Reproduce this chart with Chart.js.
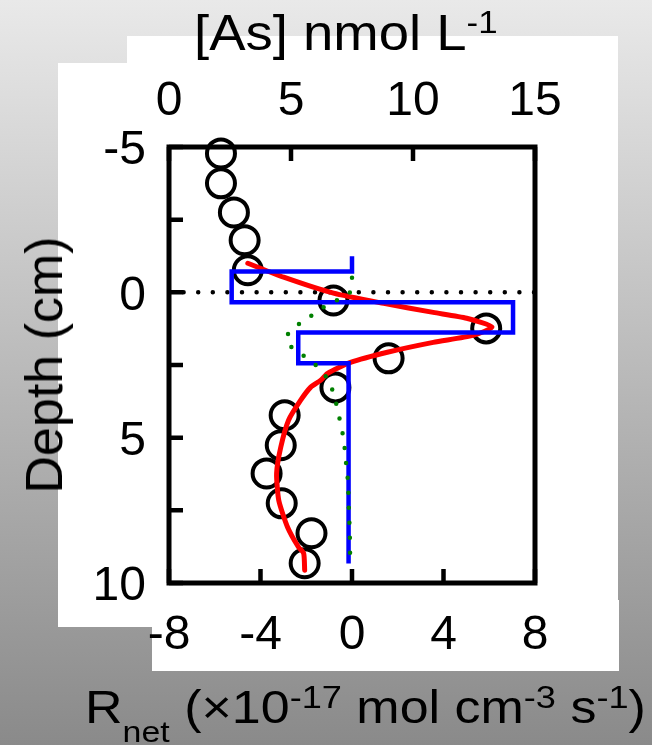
<!DOCTYPE html>
<html>
<head>
<meta charset="utf-8">
<script src="https://cdn.jsdelivr.net/npm/chart.js@4.4.1/dist/chart.umd.min.js"></script>
<style>
  html, body { margin: 0; padding: 0; }
  body {
    width: 652px; height: 745px; position: relative; overflow: hidden;
    background: linear-gradient(to bottom, #e9e9e9 0%, #8a8a8a 100%);
    font-family: "Liberation Sans", Arial, sans-serif;
  }
  #chart { position: absolute; left: 0; top: 0; }
  .title { position: absolute; white-space: nowrap; color: #000; line-height: 1; }
  .title span { position: relative; }
</style>
</head>
<body>
<canvas id="chart" width="652" height="745"></canvas>
<div class="title" id="topTitle" style="left:194px; top:8px; font-size:50px; transform-origin: left center; transform: scaleX(1.09);">[As] nmol L<span style="font-size:32px; top:-17px;">-1</span></div>
<div class="title" id="leftTitle" style="left:44px; top:365px; font-size:52px; transform: translate(-50%, -50%) rotate(-90deg);">Depth (cm)</div>
<div class="title" id="bottomTitle" style="left:85px; top:684px; font-size:46px; transform-origin: left center; transform: scaleX(1.13);">R<span style="font-size:30px; top:19px;">net</span> (×10<span style="font-size:32px; top:-15px;">-17</span> mol cm<span style="font-size:32px; top:-15px;">-3</span> s<span style="font-size:32px; top:-15px;">-1</span>)</div>

<script>
// measured As concentration (nmol/L) vs depth (cm)
const sampleDepth = [-4.78, -3.75, -2.75, -1.79, -0.76, 0.28, 1.24, 2.27, 3.27, 4.23, 5.26, 6.23, 7.26, 8.29, 9.32];
const sampleAs = [2.13, 2.13, 2.66, 3.1, 3.23, 6.74, 13.0, 9.0, 6.82, 4.74, 4.58, 4.0, 4.62, 5.84, 5.56];

// fitted concentration profile (red line, top axis)
const fitDepth = [-1.0, -0.52, 0.03, 0.38, 0.69, 0.89, 1.2, 1.48, 1.72, 2.06, 2.41, 2.79, 3.03, 3.27, 3.72, 4.4, 5.33, 6.23, 7.16, 8.08, 8.77, 8.98, 9.56];
const fitAs = [3.23, 4.7, 6.74, 8.8, 10.83, 12.2, 13.24, 12.46, 10.83, 8.95, 7.44, 6.5, 6.21, 5.8, 5.39, 4.9, 4.58, 4.41, 4.5, 4.86, 5.31, 5.52, 5.56];

// net rate by zone (blue step, bottom axis)
const stepDepth = [-1.24, -0.72, -0.72, 0.34, 0.34, 1.38, 1.38, 2.44, 2.44, 9.33];
const stepRnet = [0, 0, -5.26, -5.26, 7.04, 7.04, -2.35, -2.35, -0.15, -0.15];

// continuous net rate (green dotted, bottom axis)
const rateDepth = [-0.5, 0.0, 0.31, 0.58, 0.93, 1.27, 1.55, 1.79, 2.17, 2.55, 3.06, 3.58, 4.09, 4.61, 5.09, 5.61, 6.12, 6.64, 7.16, 7.67, 8.15, 8.67, 9.22];
const rateRnet = [0.0, -0.09, -0.74, -1.39, -2.0, -2.65, -2.85, -2.78, -2.13, -1.52, -1.0, -0.78, -0.61, -0.48, -0.35, -0.3, -0.22, -0.17, -0.15, -0.13, -0.1, -0.09, -0.08];

// sediment-water interface
const interfaceRnet = [-8, 8];
const interfaceDepth = [0, 0];

// tick values
const depthTicks = [-5, -2.5, 0, 2.5, 5, 7.5, 10];
const rnetTicks = [-8, -4, 0, 4, 8];
const asTicks = [0, 5, 10, 15];

function toPoints(xs, ys) {
  return xs.map((x, i) => ({ x: x, y: ys[i] }));
}

const tickFont = { family: "'Liberation Sans', Arial, sans-serif", size: 48 };

// white panels behind the plot, frame and inward ticks on top
const framePlugin = {
  id: 'frame',
  beforeDraw(chart) {
    const ctx = chart.ctx;
    ctx.save();
    ctx.fillStyle = '#ffffff';
    ctx.fillRect(127, 36, 491, 27);
    ctx.fillRect(58, 63, 560, 564);
    ctx.fillRect(152, 600, 467, 71);
    ctx.restore();
  },
  afterDatasetsDraw(chart) {
    const { ctx, chartArea: a, scales } = chart;
    ctx.save();
    ctx.strokeStyle = '#000';
    ctx.lineJoin = 'miter';
    ctx.lineWidth = 5;
    ctx.strokeRect(a.left, a.top, a.right - a.left, a.bottom - a.top);
    ctx.lineWidth = 4.5;
    ctx.beginPath();
    depthTicks.forEach(v => {
      const y = scales.y.getPixelForValue(v);
      ctx.moveTo(a.left, y);
      ctx.lineTo(a.left + 14, y);
    });
    rnetTicks.forEach(v => {
      const x = scales.x.getPixelForValue(v);
      ctx.moveTo(x, a.bottom);
      ctx.lineTo(x, a.bottom - 14);
    });
    asTicks.forEach(v => {
      const x = scales.xTop.getPixelForValue(v);
      ctx.moveTo(x, a.top);
      ctx.lineTo(x, a.top + 14);
    });
    ctx.stroke();
    ctx.restore();
  }
};

const ctx = document.getElementById('chart').getContext('2d');
const chart = new Chart(ctx, {
  type: 'scatter',
  data: {
    datasets: [
      {
        label: 'Rnet (continuous)',
        data: toPoints(rateRnet, rateDepth),
        xAxisID: 'x',
        showLine: true,
        borderColor: '#008000',
        borderWidth: 4.5,
        borderDash: [0, 15],
        borderCapStyle: 'round',
        pointRadius: 0,
        tension: 0.3
      },
      {
        label: 'Rnet (zones)',
        data: toPoints(stepRnet, stepDepth),
        xAxisID: 'x',
        showLine: true,
        borderColor: '#0000ff',
        borderWidth: 4.5,
        borderJoinStyle: 'miter',
        pointRadius: 0,
        tension: 0
      },
      {
        label: 'fit',
        data: toPoints(fitAs, fitDepth),
        xAxisID: 'xTop',
        showLine: true,
        borderColor: '#ff0000',
        borderWidth: 5,
        borderCapStyle: 'round',
        borderJoinStyle: 'round',
        pointRadius: 0,
        tension: 0.2
      },
      {
        label: '[As]',
        data: toPoints(sampleAs, sampleDepth),
        xAxisID: 'xTop',
        showLine: false,
        pointStyle: 'circle',
        pointRadius: 14,
        pointBorderWidth: 4,
        pointBorderColor: '#000',
        pointBackgroundColor: 'rgba(0,0,0,0)',
        clip: false
      },
      {
        label: 'interface',
        data: toPoints(interfaceRnet, interfaceDepth),
        xAxisID: 'x',
        showLine: true,
        borderColor: '#000',
        borderWidth: 4.5,
        borderDash: [0, 14.6],
        borderCapStyle: 'round',
        pointRadius: 0
      }
    ]
  },
  options: {
    responsive: false,
    animation: false,
    devicePixelRatio: 1,
    layout: { padding: { left: 0, right: 117, top: 0, bottom: 0 } },
    plugins: {
      legend: { display: false },
      tooltip: { enabled: false }
    },
    scales: {
      x: {
        type: 'linear',
        position: 'bottom',
        min: -8,
        max: 8,
        afterBuildTicks: s => { s.ticks = rnetTicks.map(v => ({ value: v })); },
        afterFit: s => { s.height = 162; },
        grid: { display: false, drawTicks: false },
        border: { display: false },
        ticks: { color: '#000', font: tickFont, padding: 24, maxRotation: 0, autoSkip: false }
      },
      xTop: {
        type: 'linear',
        position: 'top',
        min: 0,
        max: 15,
        afterBuildTicks: s => { s.ticks = asTicks.map(v => ({ value: v })); },
        afterFit: s => { s.height = 147; },
        grid: { display: false, drawTicks: false },
        border: { display: false },
        ticks: { color: '#000', font: tickFont, padding: 16, maxRotation: 0, autoSkip: false }
      },
      y: {
        type: 'linear',
        position: 'left',
        reverse: true,
        min: -5,
        max: 10,
        afterBuildTicks: s => { s.ticks = depthTicks.map(v => ({ value: v })); },
        afterFit: s => { s.width = 169; },
        grid: { display: false, drawTicks: false },
        border: { display: false },
        ticks: {
          color: '#000',
          font: tickFont,
          padding: 23,
          labelOffset: 4,
          autoSkip: false,
          callback: v => (v % 5 === 0 ? String(v) : '')
        }
      }
    }
  },
  plugins: [framePlugin]
});
</script>
</body>
</html>
